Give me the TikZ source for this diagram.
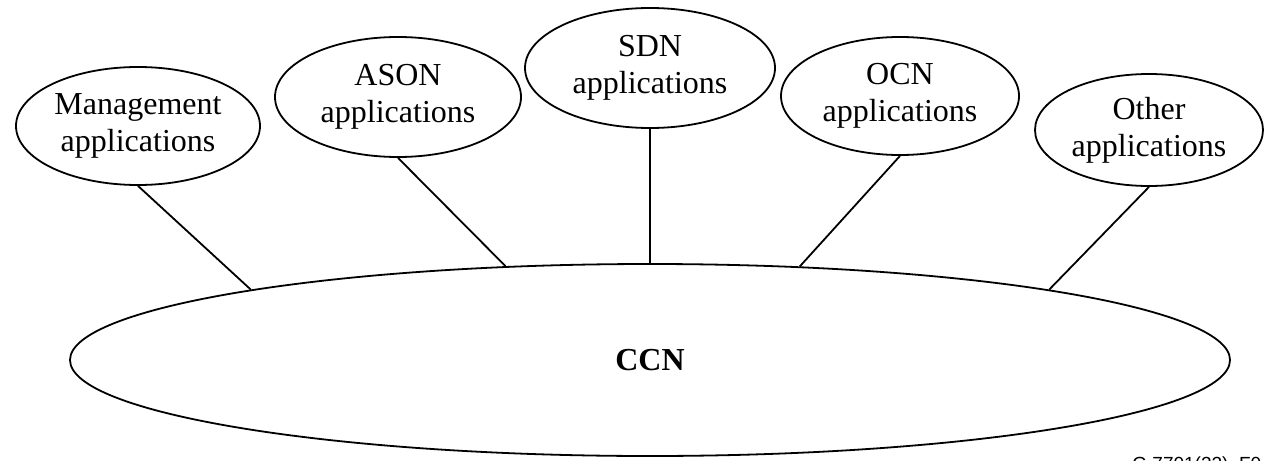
\documentclass[tikz,border=0pt]{standalone}
\usepackage{fontspec}
\setmainfont{Liberation Serif}
\newfontfamily\labelsans{Liberation Sans}
\usetikzlibrary{shapes.geometric}
\begin{document}
\begin{tikzpicture}[x=0.5pt,y=-0.5pt,
  app/.style={ellipse,draw,line width=0.9pt,inner sep=0pt,align=center,
    font=\fontsize{16}{18.5}\selectfont},
  core/.style={ellipse,draw,line width=0.9pt,inner sep=0pt,
    font=\fontsize{16}{18.5}\selectfont\bfseries},
  link/.style={line width=0.9pt}]
\useasboundingbox (0,0) rectangle (1272,460);

% central control network
\node[core,minimum width=580pt,minimum height=96pt] (ccn) at (650,360) {CCN};

% application ellipses
\node[app,minimum width=122pt,minimum height=59pt] (mgmt)  at (138,126)  {Management\\applications};
\node[app,minimum width=123pt,minimum height=60pt] (ason)  at (398,97)   {ASON\\applications};
\node[app,minimum width=125pt,minimum height=60pt] (sdn)   at (650,68)   {SDN\\applications};
\node[app,minimum width=119pt,minimum height=59pt] (ocn)   at (900,96)   {OCN\\applications};
\node[app,minimum width=114pt,minimum height=56pt] (other) at (1149,130) {Other\\applications};

% links to the CCN
\draw[link] (mgmt.south)  -- (ccn.170.8);
\draw[link] (ason.south)  -- (ccn.147.6);
\draw[link] (sdn.south)   -- (ccn.north);
\draw[link] (ocn.south)   -- (ccn.32.4);
\draw[link] (other.south) -- (ccn.10);

% figure reference
\node[anchor=base west,inner sep=0pt,font=\labelsans\fontsize{9.5}{11}\selectfont] (figref) at (1132,470) {G.7701(22)\_F0};
\end{tikzpicture}
\end{document}
